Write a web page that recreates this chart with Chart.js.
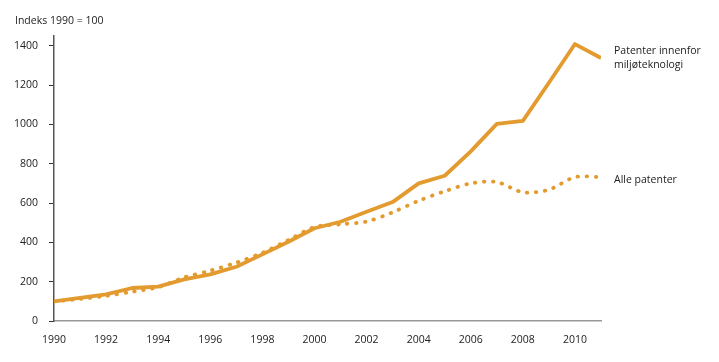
<!DOCTYPE html>
<html>

<head>
    <style>
        body { margin: 0; background: #fff; }
        #container { width: 719px; height: 362px; }
    </style>
    <title>Patenter</title>
</head>

<body>
    <div id="container">
        <canvas id="canvas" width="719" height="362"></canvas>
    </div>
    <script src="https://cdn.jsdelivr.net/npm/chart.js@4/dist/chart.umd.min.js"></script>
    <script type="text/javascript">
        var years = [1990, 1991, 1992, 1993, 1994, 1995, 1996, 1997, 1998, 1999, 2000,
            2001, 2002, 2003, 2004, 2005, 2006, 2007, 2008, 2009, 2010, 2011];
        var miljo = [100, 118, 135, 168, 175, 212, 237, 276, 339, 403, 472,
            505, 556, 605, 700, 739, 863, 1003, 1018, 1212, 1409, 1338];
        var alle = [100, 112, 128, 149, 172, 222, 256, 297, 347, 412, 478,
            492, 506, 553, 612, 660, 700, 707, 655, 668, 732, 732];
        var yTicks = [0, 200, 400, 600, 800, 1000, 1200, 1400];
        var xTicks = [1990, 1992, 1994, 1996, 1998, 2000, 2002, 2004, 2006, 2008, 2010];
        var seriesNames = [['Patenter innenfor', 'miljøteknologi'], ['Alle patenter']];
        var unitLabel = 'Indeks 1990 = 100';

        var orange = '#E39A2F';
        var font = "'Open Sans', 'DejaVu Sans', sans-serif";

        function toPoints(vals) {
            return years.map(function(y, i) { return { x: y, y: vals[i] }; });
        }

        var labelPlugin = {
            id: 'labels',
            afterDraw: function(chart) {
                var ctx = chart.ctx;
                var area = chart.chartArea;
                var ys = chart.scales.y;
                ctx.save();
                ctx.fillStyle = '#222';
                ctx.font = '10.5px ' + font;
                ctx.textBaseline = 'middle';
                ctx.textAlign = 'left';
                ctx.fillText(unitLabel, 15, area.top - 15);
                var x = area.right + 13;
                var y1 = ys.getPixelForValue(miljo[miljo.length - 1]);
                ctx.fillText(seriesNames[0][0], x, y1 - 7);
                ctx.fillText(seriesNames[0][1], x, y1 + 7);
                var y2 = ys.getPixelForValue(alle[alle.length - 1]);
                ctx.fillText(seriesNames[1][0], x, y2 + 3);
                ctx.restore();
            }
        };

        window.onload = function() {
            var ctx = document.getElementById('canvas').getContext('2d');
            window.myChart = new Chart(ctx, {
                type: 'line',
                data: {
                    datasets: [{
                        label: 'Patenter innenfor miljøteknologi',
                        data: toPoints(miljo),
                        borderColor: orange,
                        borderWidth: 3.8,
                        pointRadius: 0,
                        tension: 0,
                        borderJoinStyle: 'round'
                    }, {
                        label: 'Alle patenter',
                        data: toPoints(alle),
                        borderColor: orange,
                        borderWidth: 3.8,
                        borderDash: [0.5, 8.5],
                        borderCapStyle: 'round',
                        pointRadius: 0,
                        tension: 0.3
                    }]
                },
                options: {
                    responsive: false,
                    animation: false,
                    layout: { padding: { left: 0, right: 118, top: 36, bottom: 0 } },
                    plugins: {
                        legend: { display: false },
                        tooltip: { enabled: false }
                    },
                    scales: {
                        x: {
                            type: 'linear',
                            min: 1990,
                            max: 2011,
                            afterBuildTicks: function(scale) {
                                scale.ticks = xTicks.map(function(v) { return { value: v }; });
                            },
                            afterFit: function(scale) { scale.height = 41; },
                            grid: { display: false, drawOnChartArea: false, tickLength: 5, tickColor: '#333' },
                            border: { display: true, color: '#999', width: 1.5 },
                            ticks: {
                                color: '#222',
                                font: { family: font, size: 10.5 },
                                padding: 8,
                                maxRotation: 0,
                                autoSkip: false,
                                callback: function(v) { return String(v); }
                            }
                        },
                        y: {
                            min: 0,
                            max: 1450,
                            afterBuildTicks: function(scale) {
                                scale.ticks = yTicks.map(function(v) { return { value: v }; });
                            },
                            afterFit: function(scale) { scale.width = 54; },
                            grid: { display: true, drawOnChartArea: false, tickLength: 5, tickColor: '#333' },
                            border: { display: true, color: '#555', width: 1.5 },
                            ticks: {
                                color: '#222',
                                font: { family: font, size: 10.5 },
                                padding: 11,
                                callback: function(v) { return String(v); }
                            }
                        }
                    }
                },
                plugins: [labelPlugin]
            });
        };
    </script>
</body>

</html>
